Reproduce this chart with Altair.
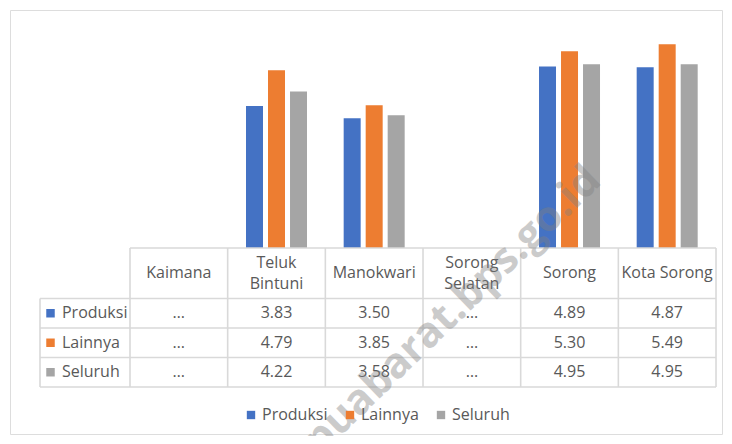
import altair as alt
import pandas as pd

# ---------------- data ----------------
categories = ["Kaimana", "Teluk Bintuni", "Manokwari", "Sorong Selatan", "Sorong", "Kota Sorong"]
header_labels = ["Kaimana", "Teluk\nBintuni", "Manokwari", "Sorong\nSelatan", "Sorong", "Kota Sorong"]
series = ["Produksi", "Lainnya", "Seluruh"]
produksi = [None, 3.83, 3.50, None, 4.89, 4.87]
lainnya = [None, 4.79, 3.85, None, 5.30, 5.49]
seluruh = [None, 4.22, 3.58, None, 4.95, 4.95]
colors = ["#4472C4", "#ED7D31", "#A5A5A5"]
watermark = "papuabarat.bps.go.id"

values = {"Produksi": produksi, "Lainnya": lainnya, "Seluruh": seluruh}

rows = []
for si, s in enumerate(series):
    for ci, c in enumerate(categories):
        v = values[s][ci]
        rows.append({"category": c, "col": ci, "series": s, "sidx": si,
                     "value": v, "label": "\u2026" if v is None else f"{v:.2f}"})
df = pd.DataFrame(rows)

# ---------------- layout ----------------
W, H = 712, 424
COL_PX = 97.67          # width of one table column
X0 = 120                # left edge of first data column (px in plot)
LABEL_W = 90            # width of series-label column
BASE = 238              # bar baseline (px from top)
UNIT = 37.1             # px per value unit
ROW_PX = 29.5           # data row height
HDR_BOTTOM = 288.5      # px of header bottom line
HDR_H = 50.5            # header height
LINE_H = 21.0           # header line spacing
GAP = 0.2253            # bar spacing (columns)
BW = 0.174              # bar width (columns)

x_dom = [-X0 / COL_PX, (W - X0) / COL_PX]
yb_dom = [-(H - BASE) / UNIT, BASE / UNIT]
yt_dom = [-HDR_BOTTOM / ROW_PX, (H - HDR_BOTTOM) / ROW_PX]
LABEL_X = -LABEL_W / COL_PX
HDR_TOP = -HDR_H / ROW_PX

xs = alt.Scale(domain=x_dom, nice=False, zero=False)
ybs = alt.Scale(domain=yb_dom, nice=False, zero=False)
yts = alt.Scale(domain=yt_dom, nice=False, zero=False, reverse=True)

FONT = "Open Sans"
TXT = "#595959"
GRID = "#d9d9d9"

# ---------------- bars ----------------
bars = alt.Chart(df).transform_filter("isValid(datum.value)").transform_calculate(
    bx1=f"datum.col + 0.5 + (datum.sidx - 1) * {GAP} - {BW / 2}",
    bx2=f"datum.col + 0.5 + (datum.sidx - 1) * {GAP} + {BW / 2}",
    zero="0",
).mark_rect().encode(
    x=alt.X("bx1:Q", scale=xs, axis=None),
    x2="bx2:Q",
    y=alt.Y("value:Q", scale=ybs, axis=None),
    y2="zero:Q",
    color=alt.Color("series:N", scale=alt.Scale(domain=series, range=colors),
                    legend=alt.Legend(title=None, orient="none", legendX=233, legendY=397,
                                      direction="horizontal", symbolType="square",
                                      symbolSize=70, symbolStrokeWidth=0,
                                      labelFont=FONT, labelFontSize=16, labelColor=TXT,
                                      columnPadding=14, labelOffset=3)),
)

# ---------------- table grid ----------------
lines = []
lines.append({"x1": 0, "x2": 6, "y1": HDR_TOP, "y2": HDR_TOP})
for r in range(4):
    lines.append({"x1": LABEL_X, "x2": 6, "y1": r, "y2": r})
lines.append({"x1": LABEL_X, "x2": LABEL_X, "y1": 0, "y2": 3})
for c in range(7):
    lines.append({"x1": c, "x2": c, "y1": HDR_TOP, "y2": 3})
grid = alt.Chart(pd.DataFrame(lines)).mark_rule(color=GRID, strokeWidth=1.6).encode(
    x=alt.X("x1:Q", scale=xs, axis=None), x2="x2:Q",
    y=alt.Y("y1:Q", scale=yts, axis=None), y2="y2:Q",
)

# ---------------- header (multi-line labels split into lines) ----------------
hrows = []
for ci, lab in enumerate(header_labels):
    parts = lab.split("\n")
    n = len(parts)
    for k, p in enumerate(parts):
        hrows.append({"col": ci, "line": k, "n": n, "txt": p})
hdr_df = pd.DataFrame(hrows)
header = alt.Chart(hdr_df).transform_calculate(
    hx="datum.col + 0.5",
    hy=f"{HDR_TOP / 2} + (datum.line - (datum.n - 1) / 2) * {LINE_H / ROW_PX}",
).mark_text(font=FONT, fontSize=16, color=TXT, align="center", baseline="middle").encode(
    x=alt.X("hx:Q", scale=xs, axis=None),
    y=alt.Y("hy:Q", scale=yts, axis=None),
    text="txt:N",
)

# ---------------- values ----------------
cells = alt.Chart(df).transform_calculate(
    cx="datum.col + 0.5", cy="datum.sidx + 0.5"
).mark_text(font=FONT, fontSize=16, color=TXT, align="center", baseline="middle").encode(
    x=alt.X("cx:Q", scale=xs, axis=None),
    y=alt.Y("cy:Q", scale=yts, axis=None),
    text="label:N",
)

# ---------------- series label column ----------------
ser_df = pd.DataFrame({"series": series, "sidx": list(range(len(series)))})
sq = alt.Chart(ser_df).transform_calculate(
    sx=f"{LABEL_X} + 0.1075", sy="datum.sidx + 0.5"
).mark_square(size=72, opacity=1).encode(
    x=alt.X("sx:Q", scale=xs, axis=None),
    y=alt.Y("sy:Q", scale=yts, axis=None),
    color=alt.Color("series:N", scale=alt.Scale(domain=series, range=colors), legend=None),
)
names = alt.Chart(ser_df).transform_calculate(
    sx=f"{LABEL_X} + 0.225", sy="datum.sidx + 0.5"
).mark_text(font=FONT, fontSize=16, color=TXT, align="left", baseline="middle").encode(
    x=alt.X("sx:Q", scale=xs, axis=None),
    y=alt.Y("sy:Q", scale=yts, axis=None),
    text="series:N",
)

# ---------------- watermark ----------------
wm = alt.Chart(pd.DataFrame({"t": [watermark]})).mark_text(
    font=FONT, fontWeight="bold", fontSize=42, color="#808080", opacity=0.4,
    angle=316, align="center", baseline="middle"
).encode(
    x=alt.XDatum(3.11, scale=xs, axis=None),
    y=alt.YDatum(-2.16, scale=ybs, axis=None),
    text="t:N",
)

chart = alt.layer(bars, grid, header, cells, sq, names, wm).resolve_scale(
    y="independent"
).properties(
    width=W, height=H, padding=2,
    autosize=alt.AutoSizeParams(type="none"),
).configure_view(stroke=GRID, strokeWidth=2).configure(font=FONT)

chart.save("out.html", embed_options={"renderer": "svg", "actions": False})
